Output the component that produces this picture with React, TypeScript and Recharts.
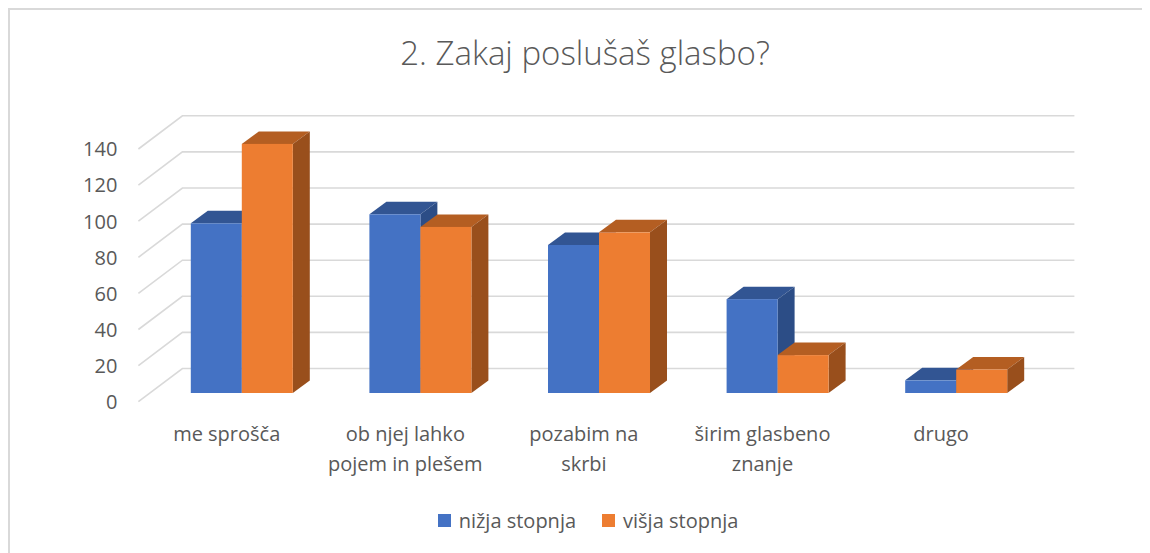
import React, { useLayoutEffect } from 'react';
import { BarChart, Bar, XAxis, YAxis, CartesianGrid, Legend } from 'recharts';

const categories = [
  'me sprošča',
  'ob njej lahko pojem in plešem',
  'pozabim na skrbi',
  'širim glasbeno znanje',
  'drugo',
];
const nizjaStopnja = [94, 99, 82, 52, 7];
const visjaStopnja = [138, 92, 89, 21, 13];
const yTicks = [0, 20, 40, 60, 80, 100, 120, 140];
const seriesNames = ['nižja stopnja', 'višja stopnja'];

const data = categories.map((name, i) => ({
  name,
  nizja: nizjaStopnja[i],
  visja: visjaStopnja[i],
}));

const FONT = '"Open Sans", sans-serif';
const TEXT = '#595959';
const GRID = '#d9d9d9';
const DX = 17;
const DY = 12.5;

// greedy wrap, Excel breaks these labels at about 15 chars
const wrap = (label: string, max = 15) => {
  const lines: string[] = [];
  let cur = '';
  label.split(' ').forEach((w) => {
    if (cur && (cur + ' ' + w).length > max) {
      lines.push(cur);
      cur = w;
    } else {
      cur = cur ? cur + ' ' + w : w;
    }
  });
  if (cur) lines.push(cur);
  return lines;
};

const bar3d = (front: string, top: string, side: string) => (props: any) => {
  const { x, y, width, height } = props;
  if (height == null) return <g />;
  const r = x + width;
  const b = y + height;
  return (
    <g>
      <polygon points={`${x},${y} ${x + DX},${y - DY} ${r + DX},${y - DY} ${r},${y}`} fill={top} />
      <polygon points={`${r},${y} ${r + DX},${y - DY} ${r + DX},${b - DY} ${r},${b}`} fill={side} />
      <rect x={x} y={y} width={width} height={height} fill={front} />
    </g>
  );
};

const gridLine = (props: any) => {
  const { x1, x2, y1, key } = props;
  const pts = `${x1 - 14},${y1 + 8.7} ${x1 + 30},${y1 - 24.5} ${x2 + 29},${y1 - 24.5}`;
  return <polyline key={key} points={pts} fill="none" stroke={GRID} strokeWidth={1.6} />;
};

const renderYTick = (props: any) => {
  const { x, y, payload } = props;
  return (
    <text x={x - 35} y={y + 16} textAnchor="end" fontFamily={FONT} fontSize={20} fill={TEXT}>
      {payload.value}
    </text>
  );
};

const renderXTick = (props: any) => {
  const { x, y, payload } = props;
  return (
    <g>
      {wrap(String(payload.value)).map((line, i) => (
        <text
          key={i}
          x={x - 15}
          y={y + 48 + i * 30}
          textAnchor="middle"
          fontFamily={FONT}
          fontSize={20}
          fill={TEXT}
        >
          {line}
        </text>
      ))}
    </g>
  );
};

const LegendContent = () => (
  <div style={{ display: 'flex', justifyContent: 'center', gap: 26, fontFamily: FONT, fontSize: 20, color: TEXT }}>
    {seriesNames.map((n, i) => (
      <div key={n} style={{ display: 'flex', alignItems: 'center' }}>
        <span
          style={{
            width: 13,
            height: 13,
            background: i === 0 ? '#4472c4' : '#ed7d31',
            marginRight: 8,
            display: 'inline-block',
          }}
        />
        <span>{n}</span>
      </div>
    ))}
  </div>
);

export default function App() {
  useLayoutEffect(() => {
    document.documentElement.style.overflow = 'hidden';
    document.body.style.overflow = 'hidden';
  }, []);

  return (
    <div
      style={{
        position: 'relative',
        width: 1142,
        height: 545,
        background: '#fff',
        overflow: 'hidden',
      }}
    >
      <div
        style={{
          position: 'absolute',
          left: 0,
          top: 0,
          width: 1142,
          height: 545,
          boxSizing: 'border-box',
          borderTop: `2px solid ${GRID}`,
          borderLeft: `2px solid ${GRID}`,
          pointerEvents: 'none',
        }}
      />
      <div
        style={{
          position: 'absolute',
          left: 0,
          width: 1142,
          boxSizing: 'border-box',
          paddingLeft: 12,
          top: 22,
          textAlign: 'center',
          fontFamily: FONT,
          fontWeight: 300,
          fontSize: 33,
          color: TEXT,
        }}
      >
        2. Zakaj poslušaš glasbo?
      </div>
      <BarChart
        width={1142}
        height={545}
        data={data}
        barCategoryGap="21.5%"
        barGap={0}
        margin={{ top: 132.3, right: 104.6, bottom: 159, left: 143.4 }}
      >
        <CartesianGrid vertical={false} horizontal={gridLine} />
        <XAxis
          dataKey="name"
          height={1}
          axisLine={false}
          tickLine={false}
          tickSize={0}
          tickMargin={0}
          interval={0}
          tick={renderXTick}
        />
        <YAxis
          width={1}
          domain={[0, 140]}
          ticks={yTicks}
          axisLine={false}
          tickLine={false}
          tickSize={0}
          tickMargin={0}
          tick={renderYTick}
        />
        <Legend
          layout="horizontal"
          verticalAlign="middle"
          align="center"
          content={<LegendContent />}
          wrapperStyle={{ left: 18, width: 1124, top: 499 }}
        />
        <Bar
          dataKey="nizja"
          name={seriesNames[0]}
          fill="#4472c4"
          isAnimationActive={false}
          shape={bar3d('#4472c4', '#325593', '#2c4d86')}
        />
        <Bar
          dataKey="visja"
          name={seriesNames[1]}
          fill="#ed7d31"
          isAnimationActive={false}
          shape={bar3d('#ed7d31', '#b45e22', '#994f1c')}
        />
      </BarChart>
    </div>
  );
}
